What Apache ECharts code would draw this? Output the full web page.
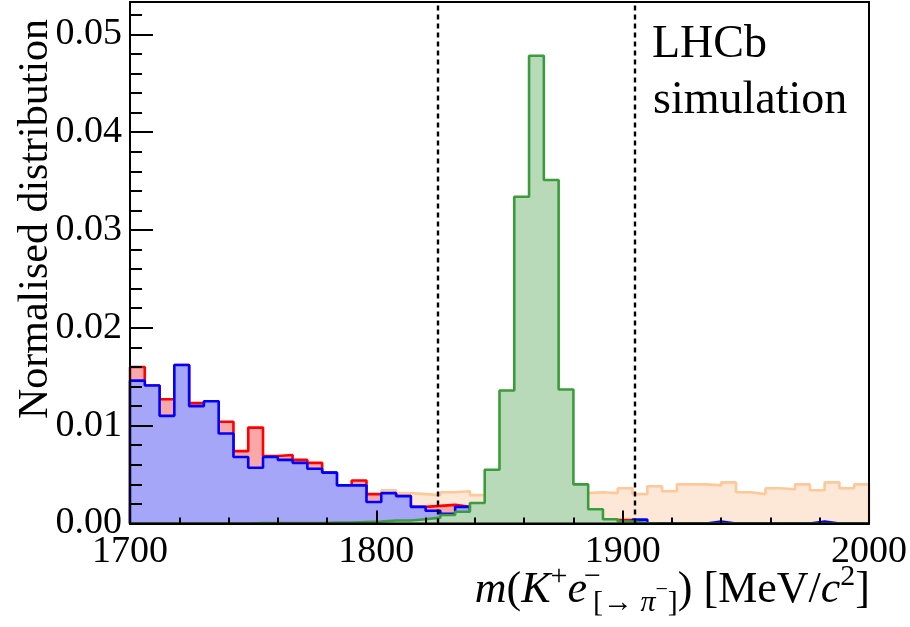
<!DOCTYPE html>
<html><head><meta charset="utf-8">
<script src="https://cdn.jsdelivr.net/npm/echarts@6/dist/echarts.min.js"></script>
<style>html,body{margin:0;padding:0;background:#fff}#c{width:910px;height:627px}</style>
</head><body><div id="c"></div>
<script>
// Binning: 50 bins of 6 MeV from 1700 to 2000
const binStart = 1700;
const binWidth = 6;
const nBins = 50;
const xTickValues = [1700, 1800, 1900, 2000];
const yTickValues = [0.00, 0.01, 0.02, 0.03, 0.04, 0.05];
const cutLines = [1825, 1905];

// red histogram
const redVals = [
  0.0160, 0.0141, 0.0127, 0.0162, 0.0123, 0.0125, 0.0104, 0.0074, 0.0098, 0.0069,
  0.0070, 0.0065, 0.0062, 0.0052, 0.0039, 0.0044, 0.0030, 0.0031, 0.0028, 0.0017,
  0.0018, 0.0019, 0.0017, 0, 0, 0, 0, 0, 0, 0,
  0, 0, 0, 0.00035, 0, 0, 0, 0, 0, 0,
  0, 0, 0, 0, 0, 0, 0, 0, 0, 0
];
// blue histogram
const blueVals = [
  0.0146, 0.0141, 0.0110, 0.0162, 0.0120, 0.0125, 0.0092, 0.0068, 0.0057, 0.0068,
  0.0065, 0.0062, 0.0056, 0.0052, 0.0039, 0.0039, 0.0022, 0.0031, 0.0028, 0.0017,
  0.0013, 0.0010, 0.0017, 0, 0, 0, 0, 0, 0, 0,
  0, 0, 0, 0, 0.0004, 0, 0, 0, 0, 0.0002,
  0, 0, 0, 0, 0, 0, 0.0002, 0, 0, 0
];
// green histogram
const greenVals = [
  0, 0, 0, 0, 0, 0, 0, 0, 0.00005, 0.00005,
  0.00005, 0.00005, 0.00005, 0.0001, 0.0001, 0.00015, 0.0002, 0.0003, 0.0003, 0.00043,
  0.0006, 0.00087, 0.0012, 0.0021, 0.0055, 0.0136, 0.0334, 0.0478, 0.0351, 0.0137,
  0.0040, 0.00146, 0.00043, 0.0002, 0.00005, 0, 0, 0, 0, 0,
  0, 0, 0, 0, 0, 0, 0, 0, 0, 0
];
// orange histogram
const orangeVals = [
  0.0020, 0.0021, 0.0022, 0.0022, 0.0023, 0.0023, 0.0024, 0.0024, 0.0025, 0.0025,
  0.0026, 0.0026, 0.0027, 0.0027, 0.0028, 0.0028, 0.0029, 0.0034, 0.0031, 0.0030,
  0.0029, 0.0032, 0.0033, 0.0029, 0.0030, 0.0031, 0.0030, 0.0031, 0.0030, 0.0031,
  0.0031, 0.0032, 0.0031, 0.0036, 0.0030, 0.0038, 0.0033, 0.0040, 0.0040, 0.0039,
  0.0042, 0.0032, 0.0030, 0.0036, 0.0035, 0.0040, 0.0034, 0.0042, 0.0036, 0.0040
];

const yMax = 0.0533;
const FONT = "'Liberation Serif', 'Times New Roman', Times, serif";

function stepPoints(vals) {
  const pts = [[binStart, 0]];
  vals.forEach((v, i) => pts.push([binStart + i * binWidth, v]));
  const xEnd = binStart + nBins * binWidth;
  pts.push([xEnd, vals[vals.length - 1]]);
  pts.push([xEnd, 0]);
  return pts;
}

function histSeries(name, vals, lineColor, fillColor, z, extra) {
  return Object.assign({
    name: name,
    type: 'line',
    step: 'end',
    z: z,
    data: stepPoints(vals),
    showSymbol: false,
    symbol: 'none',
    clip: false,
    lineStyle: { color: lineColor, width: 2.6 },
    areaStyle: { color: fillColor, opacity: 1 },
    silent: true
  }, extra || {});
}

const chart = echarts.init(document.getElementById('c'), null, { renderer: 'canvas' });
chart.setOption({
  animation: false,
  backgroundColor: '#ffffff',
  textStyle: { fontFamily: FONT },
  grid: { left: 130, top: 2, width: 740, height: 521.5, show: true, borderColor: '#000', borderWidth: 2, backgroundColor: 'transparent', z: 20 },
  xAxis: {
    type: 'value', min: xTickValues[0], max: xTickValues[xTickValues.length - 1], interval: 100,
    z: 20,
    axisLine: { show: true, lineStyle: { color: '#000', width: 2 } },
    axisTick: { show: true, inside: true, length: 13, lineStyle: { color: '#000', width: 2 } },
    minorTick: { show: true, splitNumber: 5, length: 6, lineStyle: { color: '#000', width: 2 } },
    axisLabel: { color: '#000', fontFamily: FONT, fontSize: 38, margin: 10, formatter: v => String(v) },
    splitLine: { show: false }
  },
  yAxis: [{
    type: 'value', min: 0, max: yMax, interval: 0.01,
    z: 20,
    axisLine: { show: true, lineStyle: { color: '#000', width: 2 } },
    axisTick: { show: true, inside: true, length: 23, lineStyle: { color: '#000', width: 2 } },
    axisLabel: { color: '#000', fontFamily: FONT, fontSize: 38, margin: 8, showMaxLabel: false,
      formatter: v => v.toFixed(2) },
    splitLine: { show: false }
  }, {
    type: 'value', min: 0, max: yMax, interval: 0.002, position: 'left',
    z: 20,
    axisLine: { show: false },
    axisTick: { show: true, inside: true, length: 12, lineStyle: { color: '#000', width: 2 } },
    axisLabel: { show: false },
    splitLine: { show: false }
  }],
  series: [
    histSeries('orange', orangeVals, '#ffc898', '#fde8d8', 2),
    histSeries('red', redVals, '#ff0000', '#f8a8a8', 3),
    histSeries('blue', blueVals, '#0000ff', '#a6a6f8', 4),
    histSeries('green', greenVals, '#3a9c3a', '#b8dab8', 5, {
      markLine: {
        silent: true, symbol: 'none', label: { show: false }, z: 10,
        lineStyle: { color: '#000', type: [5, 4], width: 2.4 },
        data: cutLines.map(v => ({ xAxis: v }))
      }
    })
  ],
  graphic: [
    { type: 'text', x: 36, y: 219, rotation: Math.PI / 2,
      style: { text: 'Normalised distribution', fontFamily: FONT, fontSize: 42, fill: '#000', align: 'center', verticalAlign: 'middle' } },
    { type: 'text', x: 652, y: 45,
      style: { text: 'LHCb', fontFamily: FONT, fontSize: 46, fill: '#000', align: 'left', verticalAlign: 'middle' } },
    { type: 'text', x: 653, y: 101,
      style: { text: 'simulation', fontFamily: FONT, fontSize: 46, fill: '#000', align: 'left', verticalAlign: 'middle' } },
    { type: 'text', x: 870, y: 590,
      style: {
        align: 'right', verticalAlign: 'middle',
        text: '{i|m}{r|(}{i|K}{sup|+}{i|e}{esup|−}{sub|[→ }{subi|π}{ssup|−}{sub|]}{r|) [MeV/}{i|c}{sup|2}{r|]}',
        rich: {
          r: { fontFamily: FONT, fontSize: 44, fill: '#000', lineHeight: 56, verticalAlign: 'middle' },
          i: { fontFamily: FONT, fontSize: 44, fontStyle: 'italic', fill: '#000', lineHeight: 56, verticalAlign: 'middle' },
          sup: { fontFamily: FONT, fontSize: 30, fill: '#000', lineHeight: 29, verticalAlign: 'top' },
          esup: { fontFamily: FONT, fontSize: 30, fill: '#000', lineHeight: 29, verticalAlign: 'top', width: 1, align: 'left', padding: [0, 0, 0, 5] },
          sub: { fontFamily: FONT, fontSize: 30, fill: '#000', lineHeight: 26, verticalAlign: 'bottom' },
          subi: { fontFamily: FONT, fontSize: 30, fontStyle: 'italic', fill: '#000', lineHeight: 26, verticalAlign: 'bottom' },
          ssup: { fontFamily: FONT, fontSize: 22, fill: '#000', lineHeight: 22, verticalAlign: 'middle' }
        }
      } }
  ]
});
</script>
</body></html>
